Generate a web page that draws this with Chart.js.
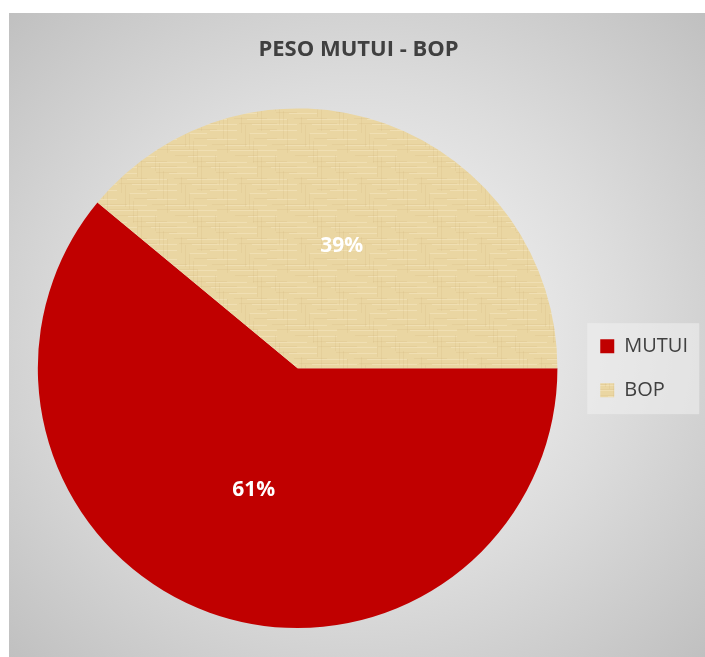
<!DOCTYPE html>
<html>
<head>
<meta charset="utf-8">
<script src="https://cdn.jsdelivr.net/npm/chart.js@4.4.0/dist/chart.umd.min.js"></script>
<style>
    body { margin: 0; background: #ffffff; }
    #box {
        position: absolute; left: 9px; top: 13px; width: 696px; height: 644px;
        background: radial-gradient(ellipse farthest-corner at 50% 50%, #fbfbfb 0%, #dcdcdc 55%, #c0c0c0 100%);
    }
</style>
</head>
<body>
<div id="box"><canvas id="grafico" width="696" height="644"></canvas></div>
<script>
var titolo = 'PESO MUTUI - BOP';
var categorie = ['MUTUI', 'BOP'];
var valori = [61, 39];
var etichette = ['61%', '39%'];

// texture "carta" per la fetta BOP
function creaTexture() {
    var c = document.createElement('canvas');
    c.width = 60; c.height = 60;
    var g = c.getContext('2d');
    g.fillStyle = '#EAD6A2';
    g.fillRect(0, 0, 60, 60);
    for (var y = 0; y < 60; y += 1) {
        var k = (y * 37) % 17;
        if (k < 3) g.fillStyle = 'rgba(255,246,220,0.30)';
        else if (k > 13) g.fillStyle = 'rgba(205,175,110,0.16)';
        else continue;
        var x0 = (y * 13) % 60;
        var w = 18 + (y * 7) % 30;
        g.fillRect(x0, y, w, 1);
        g.fillRect(x0 - 60, y, w, 1);
    }
    for (var x = 0; x < 60; x += 2) {
        var m = (x * 23) % 13;
        if (m < 4) {
            g.fillStyle = 'rgba(200,170,105,0.14)';
            var y0 = (x * 17) % 60;
            g.fillRect(x, y0, 1, 16 + m * 6);
            g.fillRect(x, y0 - 60, 1, 16 + m * 6);
        }
    }
    return g.createPattern(c, 'repeat');
}

var texture = creaTexture();

var sfondoLegenda = {
    id: 'sfondoLegenda',
    beforeDraw(chart) {
        var hb = chart.legend.legendHitBoxes;
        if (!hb || !hb.length) return;
        var ctx = chart.ctx;
        var left = hb[0].left - 13;
        var top = hb[0].top - 13;
        var bottom = hb[hb.length - 1].top + hb[hb.length - 1].height + 14;
        ctx.save();
        ctx.fillStyle = 'rgba(240,240,240,0.55)';
        ctx.fillRect(left, top, 112, bottom - top);
        ctx.restore();
    }
};

var etichetteFette = {
    id: 'etichetteFette',
    afterDatasetsDraw(chart) {
        var ctx = chart.ctx;
        var meta = chart.getDatasetMeta(0);
        ctx.save();
        ctx.fillStyle = '#ffffff';
        ctx.font = 'bold 21px "Open Sans"';
        ctx.textAlign = 'center';
        ctx.textBaseline = 'middle';
        meta.data.forEach(function (arc, i) {
            var p = arc.tooltipPosition();
            ctx.fillText(etichette[i], p.x, p.y);
        });
        ctx.restore();
    }
};

var ctx = document.getElementById('grafico');
var myChart = new Chart(ctx, {
    type: 'pie',
    data: {
        labels: categorie,
        datasets: [{
            data: valori,
            backgroundColor: ['#C00000', texture],
            borderWidth: 0,
            hoverOffset: 0
        }]
    },
    options: {
        responsive: false,
        animation: false,
        rotation: 90,
        layout: {
            padding: { top: 0, left: 10, right: 7, bottom: 29 }
        },
        plugins: {
            title: {
                display: true,
                text: titolo,
                color: '#404040',
                font: { family: 'Open Sans', size: 22, weight: 'bold' },
                padding: { top: 24, bottom: 45 }
            },
            legend: {
                position: 'right',
                title: {
                    display: true,
                    text: '',
                    font: { size: 12 },
                    padding: { top: 0, bottom: 81 }
                },
                labels: {
                    boxWidth: 14,
                    boxHeight: 14,
                    padding: 24,
                    color: '#404040',
                    font: { family: 'Open Sans', size: 20 }
                }
            },
            tooltip: { enabled: false }
        }
    },
    plugins: [sfondoLegenda, etichetteFette]
});
</script>
</body>
</html>
